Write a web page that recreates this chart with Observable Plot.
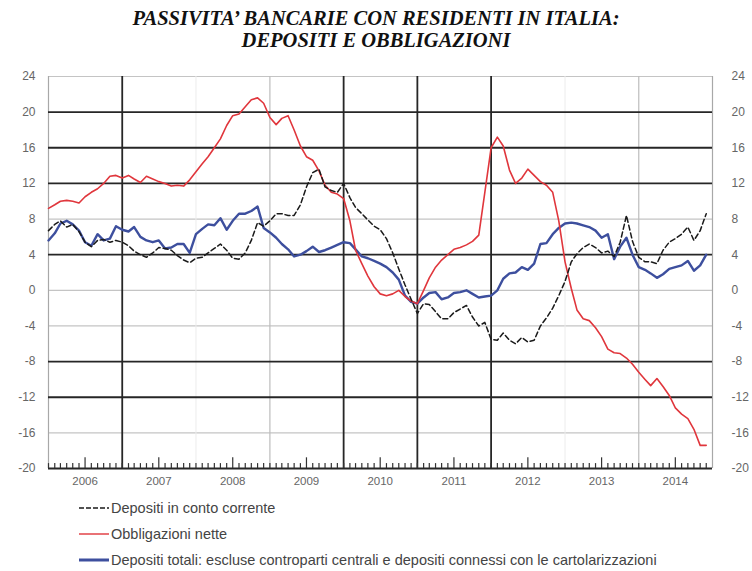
<!DOCTYPE html>
<html><head><meta charset="utf-8">
<script src="https://cdn.jsdelivr.net/npm/d3@7"></script>
<script src="https://cdn.jsdelivr.net/npm/@observablehq/plot@0.6"></script>
<style>
body{margin:0;background:#fff;width:752px;height:571px;overflow:hidden;position:relative;font-family:"Liberation Sans",Arial,sans-serif}
#title{position:absolute;left:0;top:7px;width:752px;text-align:center;font-family:"Liberation Serif",serif;font-weight:bold;font-style:italic;font-size:20.5px;line-height:22px;color:#111}
#chart{position:absolute;left:0;top:56px}
.leg{position:absolute;left:79px;height:20px;display:flex;align-items:center;font-size:14.5px;color:#444;white-space:nowrap}
.leg svg{margin-right:2px}
</style></head>
<body>
<div id="title">PASSIVITA’ BANCARIE CON RESIDENTI IN ITALIA:<br>DEPOSITI E OBBLIGAZIONI</div>
<div id="chart"></div>
<div id="legend"></div>
<script>
// Monthly series, Jan 2006 – Dec 2014 (% change y/y)
const startDate = new Date(Date.UTC(2006, 0, 1));
const endDate = new Date(Date.UTC(2015, 0, 1));
const months = d3.utcMonth.range(startDate, endDate);

const depositiContoCorrente = [
  6.7, 7.4, 7.8, 7.1, 7.4, 6.6, 5.4, 4.9, 5.6, 5.7, 5.4, 5.6,
  5.4, 5.0, 4.4, 4.0, 3.7, 4.2, 4.8, 4.7, 4.5, 3.9, 3.4, 3.1,
  3.6, 3.7, 4.2, 4.7, 5.2, 4.5, 3.6, 3.5, 4.2, 5.6, 7.6, 7.2,
  7.8, 8.6, 8.6, 8.4, 8.4, 9.6, 11.6, 13.2, 13.6, 11.6, 11.2, 11.0,
  12.0, 10.4, 9.3, 8.6, 7.9, 7.2, 6.8, 5.8, 4.2, 2.4, 0.6, -1.0,
  -2.6, -1.5, -1.6, -2.4, -3.2, -3.2, -2.5, -2.1, -1.7, -3.0, -4.0, -3.6,
  -5.5, -5.6, -4.8, -5.6, -6.0, -5.3, -5.8, -5.6, -4.0, -3.1, -2.0, -0.6,
  1.0, 3.2, 4.1, 4.8, 5.2, 4.8, 4.2, 4.4, 3.8, 5.4, 8.4, 5.5,
  3.7, 3.2, 3.2, 3.0, 4.5, 5.4, 5.8, 6.3, 7.1, 5.6, 6.7, 8.6
];
const obbligazioni = [
  9.2, 9.6, 10.0, 10.1, 10.0, 9.8, 10.5, 11.0, 11.4, 12.0, 12.8, 12.9,
  12.6, 12.9, 12.5, 12.1, 12.8, 12.5, 12.2, 12.0, 11.7, 11.8, 11.7, 12.4,
  13.3, 14.2, 15.0, 16.0, 17.0, 18.5, 19.6, 19.8, 20.6, 21.4, 21.6, 21.0,
  19.4, 18.6, 19.3, 19.6, 18.0, 16.2, 15.0, 14.6, 13.4, 11.8, 11.0, 10.8,
  10.3, 7.8, 4.5, 3.0, 1.6, 0.4, -0.4, -0.6, -0.4, 0.0, -0.7, -1.2,
  -1.5, 0.0, 1.4, 2.6, 3.4, 4.0, 4.6, 4.8, 5.1, 5.5, 6.2, 11.0,
  16.0, 17.2, 16.2, 13.5, 12.0, 12.6, 13.6, 12.9, 12.2, 11.8, 11.0, 7.8,
  3.2, 0.2, -2.2, -3.2, -3.4, -4.2, -5.2, -6.6, -7.0, -7.1, -7.6, -8.3,
  -9.2, -10.0, -10.7, -9.9, -10.8, -11.8, -13.2, -13.9, -14.4, -15.6, -17.4, -17.4
];
const depositiTotali = [
  5.6, 6.4, 7.5, 7.8, 7.4, 6.7, 5.4, 5.0, 6.3, 5.6, 5.8, 7.2,
  6.8, 6.6, 7.1, 6.0, 5.6, 5.4, 5.6, 4.7, 4.8, 5.2, 5.2, 4.2,
  6.3, 6.9, 7.4, 7.3, 8.1, 6.8, 7.8, 8.6, 8.6, 8.9, 9.4, 7.0,
  6.5, 5.9, 5.2, 4.6, 3.8, 4.0, 4.4, 4.9, 4.3, 4.5, 4.8, 5.1,
  5.4, 5.3, 4.6, 3.8, 3.6, 3.3, 3.0, 2.6, 2.0, 1.2, -0.6, -1.3,
  -1.5, -0.8, -0.3, -0.2, -1.0, -0.8, -0.3, -0.2, 0.0, -0.4, -0.8, -0.7,
  -0.6, 0.0, 1.3, 1.9, 2.0, 2.6, 2.3, 3.0, 5.2, 5.3, 6.3, 7.0,
  7.5, 7.6, 7.5, 7.3, 7.1, 6.7, 5.9, 6.3, 3.5, 4.9, 5.9, 4.0,
  2.6, 2.3, 1.9, 1.4, 1.8, 2.4, 2.6, 2.8, 3.3, 2.2, 2.8, 4.0
];

const yTicks = [24, 20, 16, 12, 8, 4, 0, -4, -8, -12, -16, -20];
const yDark = [20, 16, 12, 4, -8, -12, -20];
const yLight = [24, 8, 0, -4, -16];
const yearLabels = ["2006", "2007", "2008", "2009", "2010", "2011", "2012", "2013", "2014"];
const yearsDark = [2007, 2010, 2011, 2012];
const yearsLight = [2009, 2014];
const yearsFaint = [2008, 2013];

const seriesNames = [
  "Depositi in conto corrente",
  "Obbligazioni nette",
  "Depositi totali: escluse controparti centrali e depositi connessi con le cartolarizzazioni"
];
const colors = ["#1a1a1a", "#e0363c", "#3d4f9e"];

const jan = y => new Date(Date.UTC(y, 0, 1));
const midYear = yearLabels.map(y => new Date(Date.UTC(+y, 6, 1)));

const chart = Plot.plot({
  width: 752,
  height: 440,
  marginLeft: 48,
  marginRight: 40,
  marginTop: 20,
  marginBottom: 28,
  style: {fontFamily: "Liberation Sans, Arial, sans-serif", background: "#fff"},
  x: {type: "utc", domain: [startDate, endDate]},
  y: {domain: [-20, 24]},
  marks: [
    Plot.ruleY(yLight, {stroke: "#c4c4c4", strokeWidth: 1.2}),
    Plot.ruleX(yearsFaint.map(jan), {stroke: "#ececec", strokeWidth: 1}),
    Plot.ruleX(yearsLight.map(jan), {stroke: "#bdbdbd", strokeWidth: 1.2}),
    Plot.ruleX([startDate, endDate], {stroke: "#a8a8a8", strokeWidth: 1.2}),
    Plot.ruleY(yDark, {stroke: "#262626", strokeWidth: 1.8}),
    Plot.ruleX(yearsDark.map(jan), {stroke: "#262626", strokeWidth: 1.8}),
    Plot.ruleX(months, {x: d => d, y1: -20, y2: d => d.getUTCMonth() === 6 ? -18.8 : -19.45, stroke: "#333", strokeWidth: 1.2}),
    Plot.line(depositiTotali, {x: (d, i) => months[i], y: d => d, stroke: colors[2], strokeWidth: 2.4}),
    Plot.line(obbligazioni, {x: (d, i) => months[i], y: d => d, stroke: colors[1], strokeWidth: 1.6}),
    Plot.line(depositiContoCorrente, {x: (d, i) => months[i], y: d => d, stroke: colors[0], strokeWidth: 1.5, strokeDasharray: "5,3"}),
    Plot.axisY({anchor: "left", ticks: yTicks, tickFormat: d => String(d), tickSize: 0, tickPadding: 13, fontSize: 12, fill: "#666"}),
    Plot.axisY({anchor: "right", ticks: yTicks, tickFormat: d => String(d), tickSize: 0, tickPadding: 19, fontSize: 12, fill: "#666", textAnchor: "start"}),
    Plot.axisX({ticks: midYear, tickFormat: (d, i) => yearLabels[i], tickSize: 0, tickPadding: 8, fontSize: 11.5, fill: "#666"})
  ]
});
document.getElementById("chart").appendChild(chart);

// legend
const legendTops = [498, 524, 550];
const legend = document.getElementById("legend");
seriesNames.forEach((name, i) => {
  const row = document.createElement("div");
  row.className = "leg";
  row.style.top = legendTops[i] + "px";
  const dash = i === 0 ? 'stroke-dasharray="5,2"' : "";
  const sw = i === 2 ? 3 : 1.4;
  row.innerHTML = `<svg width="30" height="10"><line x1="0" y1="5" x2="30" y2="5" stroke="${colors[i]}" stroke-width="${sw}" ${dash}/></svg><span>${name}</span>`;
  legend.appendChild(row);
});
</script>
</body></html>
